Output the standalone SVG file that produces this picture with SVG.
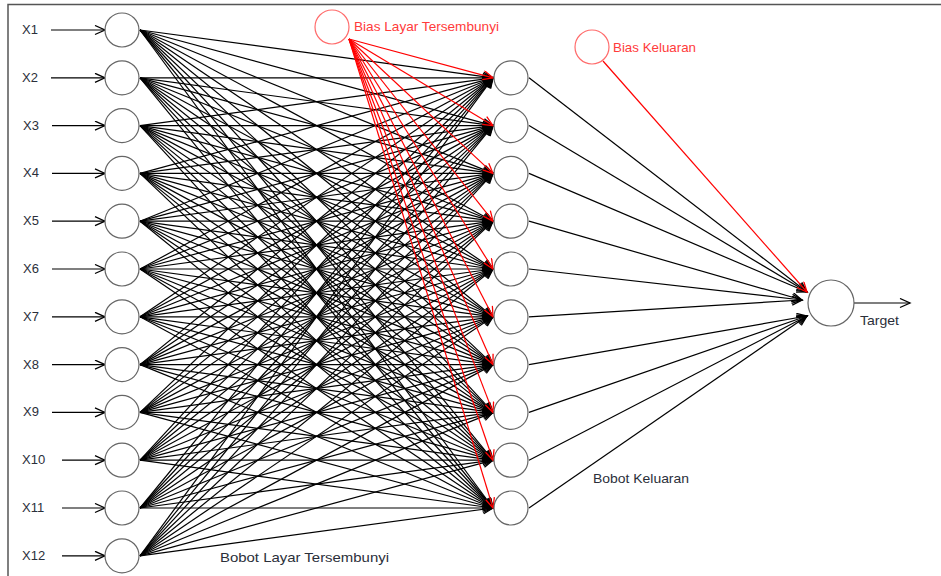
<svg xmlns="http://www.w3.org/2000/svg" width="941" height="576" viewBox="0 0 941 576">
<style>
.bg{fill:#fff}
.frame{fill:none;stroke:#555;stroke-width:1.5}
.node{fill:#fff;stroke:#666;stroke-width:1.2}
.bias{fill:#fff;stroke:#ff6b6b;stroke-width:1.2}
.lbl{font-family:"Liberation Sans",Arial,sans-serif;font-size:13px;fill:#2b2f3a}
.rlbl{font-family:"Liberation Sans",Arial,sans-serif;font-size:13px;fill:#ff3b3b}
.w{stroke:#000;stroke-width:1.2;fill:none;marker-end:url(#ak)}
.r{stroke:#ff0000;stroke-width:1.2;fill:none;marker-end:url(#ar)}
</style>
<defs>
<marker id="ak" markerUnits="userSpaceOnUse" markerWidth="14" markerHeight="12" refX="11" refY="5" orient="auto"><path d="M1,0.5 L11,5 L1,9.5" fill="none" stroke="#000" stroke-width="1.3"/></marker>
<marker id="ar" markerUnits="userSpaceOnUse" markerWidth="14" markerHeight="12" refX="11" refY="5" orient="auto"><path d="M1,0.5 L11,5 L1,9.5" fill="none" stroke="#ff0000" stroke-width="1.3"/></marker>
</defs>
<rect class="bg" x="0" y="0" width="941" height="576"/>
<path class="frame" d="M8,576 L8,4.5 L941,4.5"/>
<g id="connectors">
<g id="input-arrows">
<line class="w" x1="51" y1="30" x2="105" y2="30"/>
<line class="w" x1="51" y1="77.8" x2="105" y2="77.8"/>
<line class="w" x1="52" y1="125.6" x2="105" y2="125.6"/>
<line class="w" x1="52" y1="173.4" x2="105" y2="173.4"/>
<line class="w" x1="52" y1="221.2" x2="105" y2="221.2"/>
<line class="w" x1="52" y1="269" x2="105" y2="269"/>
<line class="w" x1="52" y1="316.8" x2="105" y2="316.8"/>
<line class="w" x1="52" y1="364.6" x2="105" y2="364.6"/>
<line class="w" x1="52" y1="412.4" x2="105" y2="412.4"/>
<line class="w" x1="62" y1="460.2" x2="105" y2="460.2"/>
<line class="w" x1="62" y1="508" x2="105" y2="508"/>
<line class="w" x1="62" y1="555.8" x2="105" y2="555.8"/>
</g>
<g id="hidden-weights">
<line class="w" x1="140" y1="30" x2="493" y2="77.8"/><line class="w" x1="140" y1="30" x2="493" y2="125.6"/><line class="w" x1="140" y1="30" x2="493" y2="173.4"/><line class="w" x1="140" y1="30" x2="493" y2="221.2"/><line class="w" x1="140" y1="30" x2="493" y2="269"/><line class="w" x1="140" y1="30" x2="493" y2="316.8"/><line class="w" x1="140" y1="30" x2="493" y2="364.6"/><line class="w" x1="140" y1="30" x2="493" y2="412.4"/><line class="w" x1="140" y1="30" x2="493" y2="460.2"/><line class="w" x1="140" y1="30" x2="493" y2="508"/>
<line class="w" x1="140" y1="77.8" x2="493" y2="77.8"/><line class="w" x1="140" y1="77.8" x2="493" y2="125.6"/><line class="w" x1="140" y1="77.8" x2="493" y2="173.4"/><line class="w" x1="140" y1="77.8" x2="493" y2="221.2"/><line class="w" x1="140" y1="77.8" x2="493" y2="269"/><line class="w" x1="140" y1="77.8" x2="493" y2="316.8"/><line class="w" x1="140" y1="77.8" x2="493" y2="364.6"/><line class="w" x1="140" y1="77.8" x2="493" y2="412.4"/><line class="w" x1="140" y1="77.8" x2="493" y2="460.2"/><line class="w" x1="140" y1="77.8" x2="493" y2="508"/>
<line class="w" x1="140" y1="125.6" x2="493" y2="77.8"/><line class="w" x1="140" y1="125.6" x2="493" y2="125.6"/><line class="w" x1="140" y1="125.6" x2="493" y2="173.4"/><line class="w" x1="140" y1="125.6" x2="493" y2="221.2"/><line class="w" x1="140" y1="125.6" x2="493" y2="269"/><line class="w" x1="140" y1="125.6" x2="493" y2="316.8"/><line class="w" x1="140" y1="125.6" x2="493" y2="364.6"/><line class="w" x1="140" y1="125.6" x2="493" y2="412.4"/><line class="w" x1="140" y1="125.6" x2="493" y2="460.2"/><line class="w" x1="140" y1="125.6" x2="493" y2="508"/>
<line class="w" x1="140" y1="173.4" x2="493" y2="77.8"/><line class="w" x1="140" y1="173.4" x2="493" y2="125.6"/><line class="w" x1="140" y1="173.4" x2="493" y2="173.4"/><line class="w" x1="140" y1="173.4" x2="493" y2="221.2"/><line class="w" x1="140" y1="173.4" x2="493" y2="269"/><line class="w" x1="140" y1="173.4" x2="493" y2="316.8"/><line class="w" x1="140" y1="173.4" x2="493" y2="364.6"/><line class="w" x1="140" y1="173.4" x2="493" y2="412.4"/><line class="w" x1="140" y1="173.4" x2="493" y2="460.2"/><line class="w" x1="140" y1="173.4" x2="493" y2="508"/>
<line class="w" x1="140" y1="221.2" x2="493" y2="77.8"/><line class="w" x1="140" y1="221.2" x2="493" y2="125.6"/><line class="w" x1="140" y1="221.2" x2="493" y2="173.4"/><line class="w" x1="140" y1="221.2" x2="493" y2="221.2"/><line class="w" x1="140" y1="221.2" x2="493" y2="269"/><line class="w" x1="140" y1="221.2" x2="493" y2="316.8"/><line class="w" x1="140" y1="221.2" x2="493" y2="364.6"/><line class="w" x1="140" y1="221.2" x2="493" y2="412.4"/><line class="w" x1="140" y1="221.2" x2="493" y2="460.2"/><line class="w" x1="140" y1="221.2" x2="493" y2="508"/>
<line class="w" x1="140" y1="269" x2="493" y2="77.8"/><line class="w" x1="140" y1="269" x2="493" y2="125.6"/><line class="w" x1="140" y1="269" x2="493" y2="173.4"/><line class="w" x1="140" y1="269" x2="493" y2="221.2"/><line class="w" x1="140" y1="269" x2="493" y2="269"/><line class="w" x1="140" y1="269" x2="493" y2="316.8"/><line class="w" x1="140" y1="269" x2="493" y2="364.6"/><line class="w" x1="140" y1="269" x2="493" y2="412.4"/><line class="w" x1="140" y1="269" x2="493" y2="460.2"/><line class="w" x1="140" y1="269" x2="493" y2="508"/>
<line class="w" x1="140" y1="316.8" x2="493" y2="77.8"/><line class="w" x1="140" y1="316.8" x2="493" y2="125.6"/><line class="w" x1="140" y1="316.8" x2="493" y2="173.4"/><line class="w" x1="140" y1="316.8" x2="493" y2="221.2"/><line class="w" x1="140" y1="316.8" x2="493" y2="269"/><line class="w" x1="140" y1="316.8" x2="493" y2="316.8"/><line class="w" x1="140" y1="316.8" x2="493" y2="364.6"/><line class="w" x1="140" y1="316.8" x2="493" y2="412.4"/><line class="w" x1="140" y1="316.8" x2="493" y2="460.2"/><line class="w" x1="140" y1="316.8" x2="493" y2="508"/>
<line class="w" x1="140" y1="364.6" x2="493" y2="77.8"/><line class="w" x1="140" y1="364.6" x2="493" y2="125.6"/><line class="w" x1="140" y1="364.6" x2="493" y2="173.4"/><line class="w" x1="140" y1="364.6" x2="493" y2="221.2"/><line class="w" x1="140" y1="364.6" x2="493" y2="269"/><line class="w" x1="140" y1="364.6" x2="493" y2="316.8"/><line class="w" x1="140" y1="364.6" x2="493" y2="364.6"/><line class="w" x1="140" y1="364.6" x2="493" y2="412.4"/><line class="w" x1="140" y1="364.6" x2="493" y2="460.2"/><line class="w" x1="140" y1="364.6" x2="493" y2="508"/>
<line class="w" x1="140" y1="412.4" x2="493" y2="77.8"/><line class="w" x1="140" y1="412.4" x2="493" y2="125.6"/><line class="w" x1="140" y1="412.4" x2="493" y2="173.4"/><line class="w" x1="140" y1="412.4" x2="493" y2="221.2"/><line class="w" x1="140" y1="412.4" x2="493" y2="269"/><line class="w" x1="140" y1="412.4" x2="493" y2="316.8"/><line class="w" x1="140" y1="412.4" x2="493" y2="364.6"/><line class="w" x1="140" y1="412.4" x2="493" y2="412.4"/><line class="w" x1="140" y1="412.4" x2="493" y2="460.2"/><line class="w" x1="140" y1="412.4" x2="493" y2="508"/>
<line class="w" x1="140" y1="460.2" x2="493" y2="77.8"/><line class="w" x1="140" y1="460.2" x2="493" y2="125.6"/><line class="w" x1="140" y1="460.2" x2="493" y2="173.4"/><line class="w" x1="140" y1="460.2" x2="493" y2="221.2"/><line class="w" x1="140" y1="460.2" x2="493" y2="269"/><line class="w" x1="140" y1="460.2" x2="493" y2="316.8"/><line class="w" x1="140" y1="460.2" x2="493" y2="364.6"/><line class="w" x1="140" y1="460.2" x2="493" y2="412.4"/><line class="w" x1="140" y1="460.2" x2="493" y2="460.2"/><line class="w" x1="140" y1="460.2" x2="493" y2="508"/>
<line class="w" x1="140" y1="508" x2="493" y2="77.8"/><line class="w" x1="140" y1="508" x2="493" y2="125.6"/><line class="w" x1="140" y1="508" x2="493" y2="173.4"/><line class="w" x1="140" y1="508" x2="493" y2="221.2"/><line class="w" x1="140" y1="508" x2="493" y2="269"/><line class="w" x1="140" y1="508" x2="493" y2="316.8"/><line class="w" x1="140" y1="508" x2="493" y2="364.6"/><line class="w" x1="140" y1="508" x2="493" y2="412.4"/><line class="w" x1="140" y1="508" x2="493" y2="460.2"/><line class="w" x1="140" y1="508" x2="493" y2="508"/>
<line class="w" x1="140" y1="555.8" x2="493" y2="77.8"/><line class="w" x1="140" y1="555.8" x2="493" y2="125.6"/><line class="w" x1="140" y1="555.8" x2="493" y2="173.4"/><line class="w" x1="140" y1="555.8" x2="493" y2="221.2"/><line class="w" x1="140" y1="555.8" x2="493" y2="269"/><line class="w" x1="140" y1="555.8" x2="493" y2="316.8"/><line class="w" x1="140" y1="555.8" x2="493" y2="364.6"/><line class="w" x1="140" y1="555.8" x2="493" y2="412.4"/><line class="w" x1="140" y1="555.8" x2="493" y2="460.2"/><line class="w" x1="140" y1="555.8" x2="493" y2="508"/>
</g>
<g id="hidden-bias-weights">
<line class="r" x1="349" y1="39" x2="493" y2="77.8"/><line class="r" x1="349" y1="39" x2="493" y2="125.6"/><line class="r" x1="349" y1="39" x2="493" y2="173.4"/><line class="r" x1="349" y1="39" x2="493" y2="221.2"/><line class="r" x1="349" y1="39" x2="493" y2="269"/><line class="r" x1="349" y1="39" x2="493" y2="316.8"/><line class="r" x1="349" y1="39" x2="493" y2="364.6"/><line class="r" x1="349" y1="39" x2="493" y2="412.4"/><line class="r" x1="349" y1="39" x2="493" y2="460.2"/><line class="r" x1="349" y1="39" x2="493" y2="508"/>
</g>
<g id="output-weights">
<line class="w" x1="529" y1="77.8" x2="807" y2="292"/>
<line class="w" x1="529" y1="125.6" x2="807" y2="292"/>
<line class="w" x1="529" y1="173.4" x2="807" y2="292"/>
<line class="w" x1="529" y1="221.2" x2="802" y2="300"/>
<line class="w" x1="529" y1="269" x2="802" y2="300"/>
<line class="w" x1="529" y1="316.8" x2="802" y2="300"/>
<line class="w" x1="529" y1="364.6" x2="807" y2="316"/>
<line class="w" x1="529" y1="412.4" x2="807" y2="316"/>
<line class="w" x1="529" y1="460.2" x2="807" y2="316"/>
<line class="w" x1="529" y1="508" x2="807" y2="316"/>
<line class="r" x1="603" y1="61" x2="807" y2="292"/>
</g>
<line id="output-arrow" class="w" x1="854" y1="303" x2="910" y2="303"/>
</g>
<g id="x1"><circle class="node" cx="122" cy="30" r="17"/><text class="lbl" x="22" y="34">X1</text></g>
<g id="x2"><circle class="node" cx="122" cy="77.8" r="17"/><text class="lbl" x="22" y="82">X2</text></g>
<g id="x3"><circle class="node" cx="122" cy="125.6" r="17"/><text class="lbl" x="23" y="130">X3</text></g>
<g id="x4"><circle class="node" cx="122" cy="173.4" r="17"/><text class="lbl" x="23" y="177">X4</text></g>
<g id="x5"><circle class="node" cx="122" cy="221.2" r="17"/><text class="lbl" x="23" y="225">X5</text></g>
<g id="x6"><circle class="node" cx="122" cy="269" r="17"/><text class="lbl" x="23" y="273">X6</text></g>
<g id="x7"><circle class="node" cx="122" cy="316.8" r="17"/><text class="lbl" x="23" y="321">X7</text></g>
<g id="x8"><circle class="node" cx="122" cy="364.6" r="17"/><text class="lbl" x="23" y="369">X8</text></g>
<g id="x9"><circle class="node" cx="122" cy="412.4" r="17"/><text class="lbl" x="23" y="416">X9</text></g>
<g id="x10"><circle class="node" cx="122" cy="460.2" r="17"/><text class="lbl" x="22" y="464">X10</text></g>
<g id="x11"><circle class="node" cx="122" cy="508" r="17"/><text class="lbl" x="22" y="512">X11</text></g>
<g id="x12"><circle class="node" cx="122" cy="555.8" r="17"/><text class="lbl" x="22" y="560">X12</text></g>
<g id="h1"><circle class="node" cx="511" cy="77.8" r="17"/></g>
<g id="h2"><circle class="node" cx="511" cy="125.6" r="17"/></g>
<g id="h3"><circle class="node" cx="511" cy="173.4" r="17"/></g>
<g id="h4"><circle class="node" cx="511" cy="221.2" r="17"/></g>
<g id="h5"><circle class="node" cx="511" cy="269" r="17"/></g>
<g id="h6"><circle class="node" cx="511" cy="316.8" r="17"/></g>
<g id="h7"><circle class="node" cx="511" cy="364.6" r="17"/></g>
<g id="h8"><circle class="node" cx="511" cy="412.4" r="17"/></g>
<g id="h9"><circle class="node" cx="511" cy="460.2" r="17"/></g>
<g id="h10"><circle class="node" cx="511" cy="508" r="17"/></g>
<g id="bias-hidden"><circle class="bias" cx="332" cy="27" r="17"/><text class="rlbl" x="354" y="31" textLength="145" lengthAdjust="spacingAndGlyphs">Bias Layar Tersembunyi</text></g>
<g id="bias-output"><circle class="bias" cx="592" cy="47" r="17"/><text class="rlbl" x="613" y="52" textLength="83" lengthAdjust="spacingAndGlyphs">Bias Keluaran</text></g>
<g id="output"><circle class="node" cx="831" cy="303" r="23"/><text class="lbl" x="860" y="325" textLength="39" lengthAdjust="spacingAndGlyphs">Target</text></g>
<text class="lbl" x="593" y="483" textLength="96" lengthAdjust="spacingAndGlyphs">Bobot Keluaran</text>
<text class="lbl" x="220" y="562" textLength="169" lengthAdjust="spacingAndGlyphs">Bobot Layar Tersembunyi</text>
</svg>
